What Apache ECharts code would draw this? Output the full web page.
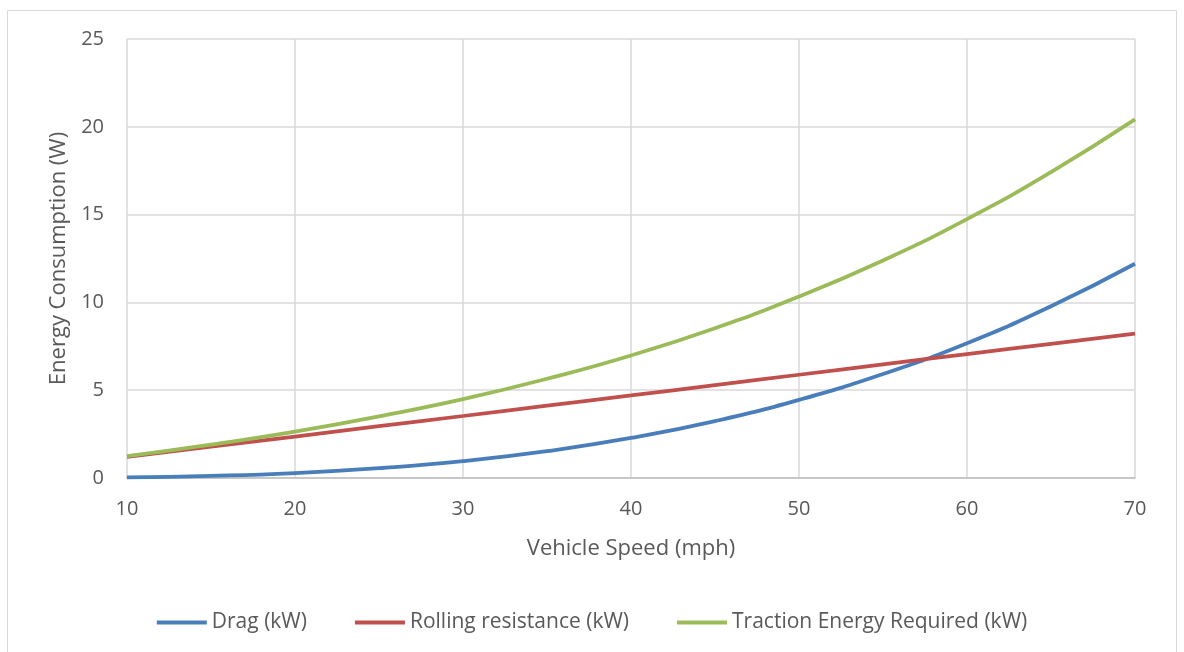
<!DOCTYPE html>
<html>
<head>
<meta charset="utf-8">
<script src="https://cdn.jsdelivr.net/npm/echarts@6/dist/echarts.min.js"></script>
<style>
  html, body { margin: 0; padding: 0; background: #fff; }
  #chart { width: 1184px; height: 652px; }
</style>
</head>
<body>
<div id="chart"></div>
<script>
// speeds in mph
var speeds = [10, 15, 20, 25, 30, 35, 40, 45, 50, 55, 60, 65, 70];
// values
var drag = [0.04, 0.12, 0.28, 0.56, 0.96, 1.53, 2.28, 3.24, 4.45, 5.92, 7.68, 9.78, 12.2];
var rolling = [1.2, 1.78, 2.36, 2.95, 3.53, 4.12, 4.7, 5.29, 5.88, 6.47, 7.06, 7.64, 8.22];
var traction = [1.24, 1.9, 2.64, 3.51, 4.49, 5.65, 6.98, 8.53, 10.33, 12.39, 14.74, 17.42, 20.42];

var seriesNames = ['Drag (kW)', 'Rolling resistance (kW)', 'Traction Energy Required (kW)'];
var seriesColors = ['#4a7ebb', '#c0504d', '#9bbb59'];
var seriesValues = [drag, rolling, traction];

function pairs(vals) {
  return speeds.map(function (s, i) { return [s, vals[i]]; });
}

var font = 'Open Sans';
var chart = echarts.init(document.getElementById('chart'));
chart.setOption({
  animation: false,
  textStyle: { fontFamily: font },
  graphic: [{
    type: 'rect',
    shape: { x: 7.5, y: 10.5, width: 1169, height: 700 },
    style: { fill: 'none', stroke: '#d9d9d9', lineWidth: 1 },
    silent: true
  }],
  grid: { left: 127, right: 49, top: 39, bottom: 174 },
  legend: {
    left: 'center',
    top: 607,
    icon: 'rect',
    itemWidth: 50,
    itemHeight: 4,
    itemGap: 48,
    textStyle: { fontFamily: font, fontSize: 21, color: '#595959' },
    data: seriesNames
  },
  xAxis: {
    type: 'value',
    min: 10,
    max: 70,
    interval: 10,
    name: 'Vehicle Speed (mph)',
    nameLocation: 'middle',
    nameGap: 60,
    nameTextStyle: { fontFamily: font, fontSize: 22, color: '#595959' },
    axisLine: { show: true, lineStyle: { color: '#bfbfbf', width: 1.5 } },
    axisTick: { show: false },
    axisLabel: { margin: 21, fontFamily: font, fontSize: 20, color: '#595959' },
    splitLine: { show: true, lineStyle: { color: '#d9d9d9', width: 1.5 } }
  },
  yAxis: {
    type: 'value',
    min: 0,
    max: 25,
    interval: 5,
    name: 'Energy Consumption (W)',
    nameLocation: 'middle',
    nameGap: 56,
    nameTextStyle: { fontFamily: font, fontSize: 22, color: '#595959' },
    axisLine: { show: false },
    axisTick: { show: false },
    axisLabel: { margin: 23, fontFamily: font, fontSize: 20, color: '#595959' },
    splitLine: { show: true, lineStyle: { color: '#d9d9d9', width: 1.5 } }
  },
  series: seriesNames.map(function (name, i) {
    return {
      name: name,
      type: 'line',
      smooth: true,
      symbol: 'none',
      color: seriesColors[i],
      lineStyle: { width: 3.75, color: seriesColors[i] },
      data: pairs(seriesValues[i])
    };
  })
});
</script>
</body>
</html>
